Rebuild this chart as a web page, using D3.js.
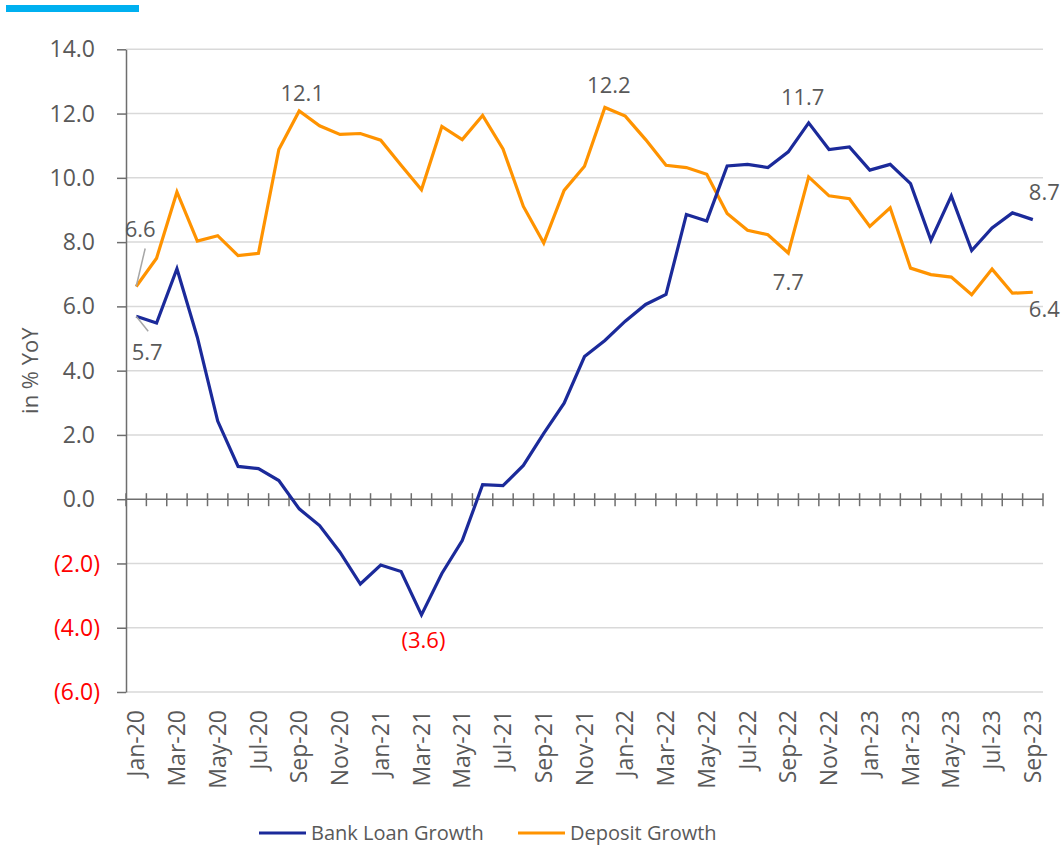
<!DOCTYPE html>
<html>
<head>
<meta charset="utf-8">
<script src="https://cdn.jsdelivr.net/npm/d3@7"></script>
<style>
  body { margin: 0; background: #fff; }
  text { font-family: "Open Sans", sans-serif; fill: #595959; }
</style>
</head>
<body>
<div id="chart"></div>
<script>
const months = [
  "Jan-20","Feb-20","Mar-20","Apr-20","May-20","Jun-20","Jul-20","Aug-20","Sep-20","Oct-20","Nov-20","Dec-20",
  "Jan-21","Feb-21","Mar-21","Apr-21","May-21","Jun-21","Jul-21","Aug-21","Sep-21","Oct-21","Nov-21","Dec-21",
  "Jan-22","Feb-22","Mar-22","Apr-22","May-22","Jun-22","Jul-22","Aug-22","Sep-22","Oct-22","Nov-22","Dec-22",
  "Jan-23","Feb-23","Mar-23","Apr-23","May-23","Jun-23","Jul-23","Aug-23","Sep-23"
];
const loanGrowth = [
  5.69, 5.48, 7.17, 5.04, 2.43, 1.02, 0.95, 0.58, -0.30, -0.82, -1.65, -2.64,
  -2.05, -2.25, -3.60, -2.31, -1.29, 0.45, 0.42, 1.05, 2.05, 2.99, 4.44, 4.94,
  5.54, 6.06, 6.37, 8.86, 8.66, 10.37, 10.42, 10.32, 10.81, 11.71, 10.88, 10.96,
  10.24, 10.42, 9.82, 8.06, 9.44, 7.74, 8.44, 8.91, 8.70
];
const depositGrowth = [
  6.62, 7.50, 9.56, 8.03, 8.20, 7.58, 7.65, 10.88, 12.08, 11.62, 11.35, 11.38,
  11.17, 10.39, 9.63, 11.60, 11.19, 11.94, 10.90, 9.11, 7.97, 9.61, 10.36, 12.19,
  11.92, 11.19, 10.39, 10.32, 10.11, 8.89, 8.37, 8.23, 7.66, 10.03, 9.44, 9.35,
  8.49, 9.07, 7.19, 6.99, 6.91, 6.36, 7.16, 6.41, 6.44
];
const yTicks = [-6, -4, -2, 0, 2, 4, 6, 8, 10, 12, 14];

function drawChart() {
  const width = 1061, height = 848;
  const plotLeft = 126, plotRight = 1043, plotTop = 49.3, plotBottom = 692;
  const blue = "#1B2A9A", orange = "#FF9300";

  const svg = d3.select("#chart").append("svg")
    .attr("width", width)
    .attr("height", height);

  // cyan bar top-left
  svg.append("rect")
    .attr("x", 6).attr("y", 5).attr("width", 133).attr("height", 7)
    .attr("fill", "#00B0F0");

  const x = d3.scaleBand().domain(months).range([plotLeft, plotRight]);
  const cx = m => x(m) + x.bandwidth() / 2;
  const y = d3.scaleLinear().domain([-6, 14]).range([plotBottom, plotTop]);

  // gridlines
  svg.append("g").selectAll("line")
    .data(yTicks.filter(d => d !== 0))
    .enter().append("line")
    .attr("x1", plotLeft).attr("x2", plotRight)
    .attr("y1", d => y(d)).attr("y2", d => y(d))
    .attr("stroke", "#d9d9d9").attr("stroke-width", 1.5);

  // y axis
  const yAxis = svg.append("g")
    .attr("transform", `translate(${plotLeft},0)`)
    .call(d3.axisLeft(y).tickValues(yTicks).tickSize(9).tickSizeOuter(0).tickFormat(""));
  yAxis.select(".domain").attr("stroke", "#6e6e6e").attr("stroke-width", 1.5);
  yAxis.selectAll(".tick line").attr("stroke", "#6e6e6e").attr("stroke-width", 1.5);

  svg.append("g").selectAll("text")
    .data(yTicks)
    .enter().append("text")
    .attr("x", d => d < 0 ? plotLeft - 26 : plotLeft - 31)
    .attr("y", d => y(d))
    .attr("dy", "0.35em")
    .attr("text-anchor", "end")
    .style("font-size", "23px")
    .style("fill", d => d < 0 ? "#FF0000" : "#595959")
    .text(d => d < 0 ? `(${Math.abs(d).toFixed(1)})` : d.toFixed(1));

  // x axis at zero with crossing ticks at category boundaries
  svg.append("line")
    .attr("x1", plotLeft).attr("x2", plotRight)
    .attr("y1", y(0)).attr("y2", y(0))
    .attr("stroke", "#6e6e6e").attr("stroke-width", 1.5);
  svg.append("g").selectAll("line")
    .data(months.concat(["end"]))
    .enter().append("line")
    .attr("x1", (d, i) => i < months.length ? x(d) : plotRight)
    .attr("x2", (d, i) => i < months.length ? x(d) : plotRight)
    .attr("y1", y(0) - 6).attr("y2", y(0) + 7)
    .attr("stroke", "#6e6e6e").attr("stroke-width", 1.5);

  // x labels (every other month)
  svg.append("g").selectAll("text")
    .data(months.filter((d, i) => i % 2 === 0))
    .enter().append("text")
    .attr("transform", d => `translate(${cx(d)},${plotBottom + 18}) rotate(-90)`)
    .attr("dy", "0.35em")
    .attr("text-anchor", "end")
    .style("font-size", "23px")
    .text(d => d);

  // y title
  svg.append("text")
    .attr("transform", `translate(30,${(plotTop + plotBottom) / 2}) rotate(-90)`)
    .attr("text-anchor", "middle")
    .attr("dy", "0.35em")
    .style("font-size", "22px")
    .text("in % YoY");

  // lines
  const line = d3.line()
    .x((d, i) => cx(months[i]))
    .y(d => y(d));

  svg.append("path")
    .datum(depositGrowth)
    .attr("d", line)
    .attr("fill", "none")
    .attr("stroke", orange)
    .attr("stroke-width", 3.2);

  svg.append("path")
    .datum(loanGrowth)
    .attr("d", line)
    .attr("fill", "none")
    .attr("stroke", blue)
    .attr("stroke-width", 3.2);

  // data labels
  const fmt = v => v < 0 ? `(${Math.abs(v).toFixed(1)})` : v.toFixed(1);
  const labels = [
    { s: depositGrowth, i: 0, dx: 4, dy: -49, anchor: "middle", lead: [9, -38] },
    { s: loanGrowth, i: 0, dx: 11, dy: 44, anchor: "middle", lead: [12, 15] },
    { s: depositGrowth, i: 8, dx: 3, dy: -10, anchor: "middle" },
    { s: depositGrowth, i: 23, dx: 4, dy: -14, anchor: "middle" },
    { s: loanGrowth, i: 33, dx: -6, dy: -18, anchor: "middle" },
    { s: depositGrowth, i: 32, dx: 0, dy: 37, anchor: "middle" },
    { s: loanGrowth, i: 44, dx: -4, dy: -20, anchor: "start" },
    { s: depositGrowth, i: 44, dx: -4, dy: 25, anchor: "start" },
    { s: loanGrowth, i: 14, dx: 2, dy: 33, anchor: "middle", red: true }
  ];

  labels.forEach(l => {
    const px = cx(months[l.i]), py = y(l.s[l.i]);
    if (l.lead) {
      svg.append("line")
        .attr("x1", px).attr("y1", py)
        .attr("x2", px + l.lead[0]).attr("y2", py + l.lead[1])
        .attr("stroke", "#a6a6a6").attr("stroke-width", 1.5);
    }
    svg.append("text")
      .attr("x", px + l.dx)
      .attr("y", py + l.dy)
      .attr("text-anchor", l.anchor)
      .style("font-size", "22px")
      .style("fill", l.red ? "#FF0000" : "#595959")
      .text(fmt(l.s[l.i]));
  });

  // legend
  const legendItems = [
    { name: "Bank Loan Growth", color: blue, x: 259 },
    { name: "Deposit Growth", color: orange, x: 518 }
  ];
  const legend = svg.append("g").selectAll("g")
    .data(legendItems)
    .enter().append("g")
    .attr("transform", d => `translate(${d.x},833)`);
  legend.append("line")
    .attr("x1", 0).attr("x2", 47)
    .attr("stroke", d => d.color).attr("stroke-width", 3.2);
  legend.append("text")
    .attr("x", 52)
    .attr("dy", "0.35em")
    .style("font-size", "20px")
    .text(d => d.name);
}

document.addEventListener("DOMContentLoaded", drawChart);
</script>
</body>
</html>
